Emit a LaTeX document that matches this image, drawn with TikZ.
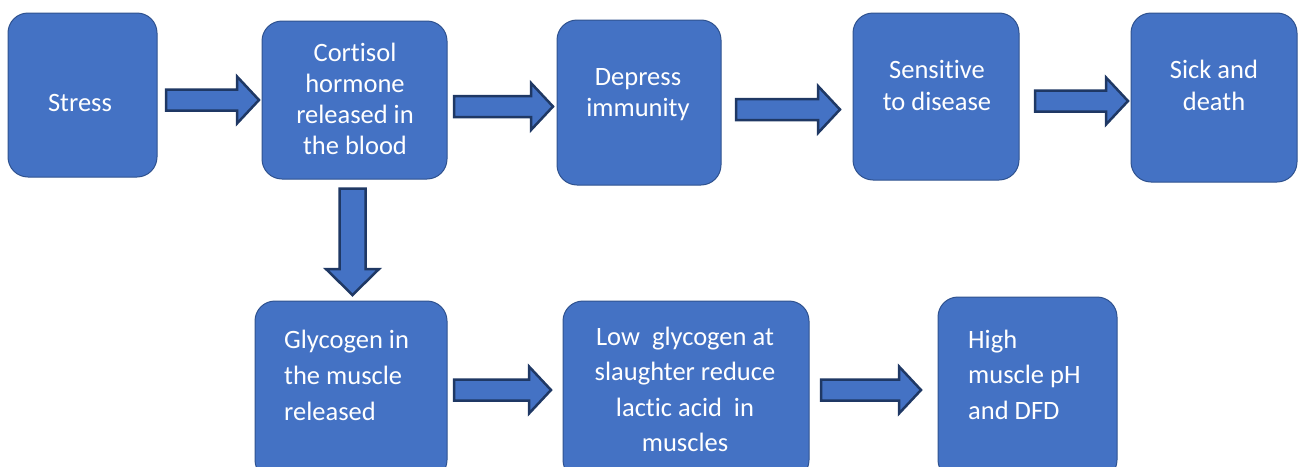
\documentclass[tikz,border=0pt]{standalone}
\usepackage{fontspec}
\setmainfont{Carlito}[Ligatures=NoCommon]
\usetikzlibrary{calc}
\definecolor{boxfill}{HTML}{4472C4}
\definecolor{boxline}{HTML}{2F528F}
\definecolor{arrline}{HTML}{1F3864}
\tikzset{
  box/.style={draw=boxline, line width=1pt, fill=boxfill, rounded corners=20pt, inner sep=0pt},
  txt/.style={text=white, font=\fontsize{26.5}{31}\selectfont, inner sep=0pt},
  barrow/.style={draw=arrline, line width=2.5pt, fill=boxfill, line join=miter},
}
% horizontal block arrow: tail point, tip point (tip's y ignored)
\newcommand\rarrow[2]{%
  \path let \p1=#1, \p2=#2 in [barrow]
    (\x1,\y1+10.5pt) -- (\x2-22pt,\y1+10.5pt) -- (\x2-22pt,\y1+23.5pt) -- (\x2,\y1)
    -- (\x2-22pt,\y1-23.5pt) -- (\x2-22pt,\y1-10.5pt) -- (\x1,\y1-10.5pt) -- cycle;}
% downward block arrow: tail point, tip point (tip's x ignored)
\newcommand\darrow[2]{%
  \path let \p1=#1, \p2=#2 in [barrow]
    (\x1-13pt,\y1) -- (\x1-13pt,\y2+26pt) -- (\x1-26.5pt,\y2+26pt) -- (\x1,\y2)
    -- (\x1+26.5pt,\y2+26pt) -- (\x1+13pt,\y2+26pt) -- (\x1+13pt,\y1) -- cycle;}
% lines of text: name, anchor, x, first baseline y, spacing, list
\newcommand\textlines[6]{%
  \foreach \l [count=\i] in {#6}
    \node[txt, anchor=#2] (#1-\i) at (#3, {#4+(\i-1)*#5}) {\l};}
\begin{document}
\begin{tikzpicture}[x=1pt, y=-1pt]
\useasboundingbox (0,0) rectangle (1298,466);
\clip (0,0) rectangle (1298,466);
% boxes
\node[box, minimum width=149pt, minimum height=164pt] (stress) at (82.5,95) {};
\node[box, minimum width=185pt, minimum height=158pt] (cort) at (354.5,100) {};
\node[box, minimum width=164pt, minimum height=165pt] (depr) at (639,102.5) {};
\node[box, minimum width=166pt, minimum height=167pt] (sens) at (936,96.5) {};
\node[box, minimum width=166pt, minimum height=169pt] (sick) at (1214,97.5) {};
\node[box, minimum width=192pt, minimum height=179pt] (glyc) at (351,390.5) {};
\node[box, minimum width=246pt, minimum height=179pt] (low) at (686,390.5) {};
\node[box, minimum width=179pt, minimum height=183pt] (high) at (1027.5,388.5) {};
% texts
\textlines{stresst}{base}{80}{111}{31}{Stress}
\textlines{cortt}{base}{355}{61}{31.3}{Cortisol,hormone,released in,the blood}
\textlines{deprt}{base}{638}{85}{31}{Depress,immunity}
\textlines{senst}{base}{937}{78}{32}{Sensitive,to disease}
\textlines{sickt}{base}{1214}{78}{32}{Sick and,death}
\textlines{glyct}{base west}{284}{348}{36}{Glycogen in,the muscle,released}
\textlines{lowt}{base}{685}{345}{35.6}{Low\ \ glycogen at,slaughter reduce,lactic acid\ \ in,muscles}
\textlines{hight}{base west}{968}{348}{35.5}{High,muscle pH,and DFD}
% block arrows
\rarrow{($(stress.east)+(8.5,5)$)}{($(cort.west)+(-2.5,0)$)}
\rarrow{($(cort.east)+(6.5,6.5)$)}{($(depr.west)+(-3.5,0)$)}
\rarrow{($(depr.east)+(14.5,7)$)}{($(sens.west)+(-12.5,0)$)}
\rarrow{($(sens.east)+(15.5,4.5)$)}{($(sick.west)+(-2.5,0)$)}
\rarrow{($(glyc.east)+(6.5,-0.5)$)}{($(low.west)+(-11.5,0)$)}
\rarrow{($(low.east)+(11.5,-0.5)$)}{($(high.west)+(-16.5,0)$)}
\darrow{($(cort.south)+(-2,9)$)}{($(glyc.north)+(0,-5.5)$)}
\end{tikzpicture}
\end{document}
